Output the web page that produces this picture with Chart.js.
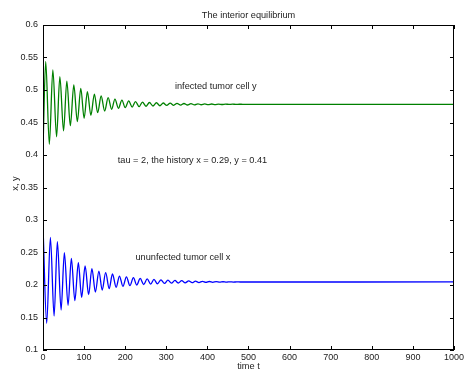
<!DOCTYPE html>
<html>
<head>
<meta charset="utf-8">
<script src="https://cdn.jsdelivr.net/npm/chart.js@4/dist/chart.umd.min.js"></script>
<style>
html,body{margin:0;padding:0;background:#fff;}
canvas{display:block;}
</style>
</head>
<body>
<canvas id="c" width="466" height="376"></canvas>
<script>
// infected tumor cell y : successive extrema (time, value)
const yTimes = [0, 6.6, 15.4, 24, 33, 41, 50, 58, 66.5, 75, 83.5, 92, 100, 108, 116.5, 125, 133, 141.5, 150, 158.5,
  167, 175, 183.5, 192, 200, 208.5, 217, 225, 234, 242, 250.5, 259, 267.5, 276, 284.5, 292.5, 301, 309.5, 318, 326,
  335, 343, 351.5, 360, 368.5, 377, 385, 393.5, 402, 410.5, 419, 427, 436, 444, 452.5, 461, 469, 478, 486, 1000];
const yValues = [0.41, 0.544, 0.4165, 0.531, 0.428, 0.5205, 0.437, 0.5138, 0.4451, 0.5077, 0.4513, 0.5026, 0.4564, 0.4974, 0.461, 0.4938, 0.4651, 0.4908, 0.4677, 0.4882,
  0.4703, 0.486, 0.4718, 0.4845, 0.4728, 0.4832, 0.4738, 0.4822, 0.4744, 0.4815, 0.475, 0.4808, 0.4754, 0.4804, 0.4758, 0.48, 0.4762, 0.4797, 0.4765, 0.4794,
  0.4767, 0.4792, 0.4769, 0.479, 0.4771, 0.4788, 0.4773, 0.4786, 0.4775, 0.4785, 0.4776, 0.4784, 0.4777, 0.4783, 0.4778, 0.4782, 0.4779, 0.4781, 0.478, 0.478];

// unfected tumor cell x : successive extrema (time, value)
const xTimes = [0, 9, 18, 27, 35, 44, 52, 61, 69, 77.5, 86, 94, 102.5, 111, 119, 127.5, 136, 144, 152.5, 161,
  169, 178, 186, 194.5, 203, 211.5, 220, 228, 236.5, 245, 253.5, 262, 270, 278.5, 287, 295.5, 304, 312.5, 321, 329,
  337.5, 346, 354.5, 363, 371, 379.5, 388, 396.5, 405, 413, 421.5, 430, 438, 446.5, 455, 463, 471.5, 480, 1000];
const xValues = [0.29, 0.141, 0.2734, 0.1523, 0.2667, 0.1615, 0.2497, 0.1688, 0.241, 0.1759, 0.2343, 0.1811, 0.2292, 0.1851, 0.2251, 0.1892, 0.2215, 0.1923, 0.2189, 0.1943,
  0.2169, 0.1964, 0.2138, 0.1978, 0.2125, 0.199, 0.2112, 0.2, 0.2101, 0.2008, 0.2093, 0.2014, 0.2086, 0.2019, 0.208, 0.2024, 0.2075, 0.2028, 0.207, 0.2031,
  0.2066, 0.2034, 0.2062, 0.2036, 0.2059, 0.2038, 0.2056, 0.204, 0.2054, 0.2041, 0.2052, 0.2043, 0.205, 0.2044, 0.2049, 0.2045, 0.2048, 0.2046, 0.2047];

const xTickValues = [0, 100, 200, 300, 400, 500, 600, 700, 800, 900, 1000];
const yTickValues = [0.1, 0.15, 0.2, 0.25, 0.3, 0.35, 0.4, 0.45, 0.5, 0.55, 0.6];

const titleText = 'The interior equilibrium';
const xAxisLabel = 'time t';
const yAxisLabel = 'x, y';
const notes = [
  {t: 321, v: 0.506, text: 'infected tumor cell y'},
  {t: 182, v: 0.392, text: 'tau = 2, the history x = 0.29, y = 0.41'},
  {t: 225, v: 0.242, text: 'ununfected tumor cell x'}
];

const FONT = '"Liberation Sans", Arial, Helvetica, sans-serif';
const toPts = (ts, vs) => ts.map((t, i) => ({x: t, y: vs[i]}));

const decor = {
  id: 'decor',
  afterDraw(chart) {
    const ctx = chart.ctx, a = chart.chartArea;
    const xs = chart.scales.x, ys = chart.scales.y;
    ctx.save();
    ctx.strokeStyle = '#000';
    ctx.lineWidth = 1;
    ctx.strokeRect(Math.round(a.left) + 0.5, Math.round(a.top) + 0.5,
      Math.round(a.right - a.left) - 1, Math.round(a.bottom - a.top) - 1);
    const L = 4;
    ctx.beginPath();
    xTickValues.forEach(v => {
      const px = Math.round(xs.getPixelForValue(v)) + 0.5;
      ctx.moveTo(px, a.bottom); ctx.lineTo(px, a.bottom - L);
      ctx.moveTo(px, a.top); ctx.lineTo(px, a.top + L);
    });
    yTickValues.forEach(v => {
      const py = Math.round(ys.getPixelForValue(v)) + 0.5;
      ctx.moveTo(a.left, py); ctx.lineTo(a.left + L, py);
      ctx.moveTo(a.right, py); ctx.lineTo(a.right - L, py);
    });
    ctx.stroke();
    ctx.fillStyle = '#222';
    ctx.font = '9.2px ' + FONT;
    ctx.textAlign = 'center';
    ctx.textBaseline = 'middle';
    ctx.fillText(titleText, (a.left + a.right) / 2, 15);
    ctx.fillText(xAxisLabel, (a.left + a.right) / 2, 366);
    ctx.save();
    ctx.translate(15, (a.top + a.bottom) / 2 - 4);
    ctx.rotate(-Math.PI / 2);
    ctx.fillText(yAxisLabel, 0, 0);
    ctx.restore();
    ctx.textAlign = 'left';
    notes.forEach(n => {
      ctx.fillText(n.text, xs.getPixelForValue(n.t), ys.getPixelForValue(n.v));
    });
    ctx.restore();
  }
};

new Chart(document.getElementById('c'), {
  type: 'scatter',
  data: {
    datasets: [
      {data: toPts(yTimes, yValues), showLine: true, borderColor: '#008000', borderWidth: 1.3,
       pointRadius: 0, cubicInterpolationMode: 'monotone', fill: false},
      {data: toPts(xTimes, xValues), showLine: true, borderColor: '#0000ff', borderWidth: 1.3,
       pointRadius: 0, cubicInterpolationMode: 'monotone', fill: false}
    ]
  },
  options: {
    responsive: false,
    animation: false,
    devicePixelRatio: 1,
    layout: {padding: {left: 0, right: 12, top: 25, bottom: 0}},
    plugins: {legend: {display: false}, tooltip: {enabled: false}, title: {display: false}},
    scales: {
      x: {
        type: 'linear', min: 0, max: 1000,
        afterBuildTicks: s => { s.ticks = xTickValues.map(v => ({value: v})); },
        afterFit: s => { s.height = 26; },
        grid: {drawOnChartArea: false, drawTicks: false},
        border: {display: false},
        ticks: {color: '#222', font: {family: FONT, size: 9}, padding: 2, maxRotation: 0,
                callback: v => String(v)}
      },
      y: {
        type: 'linear', min: 0.1, max: 0.6,
        afterBuildTicks: s => { s.ticks = yTickValues.map(v => ({value: v})); },
        afterFit: s => { s.width = 43; },
        grid: {drawOnChartArea: false, drawTicks: false},
        border: {display: false},
        ticks: {color: '#222', font: {family: FONT, size: 9}, padding: 5,
                callback: v => String(Math.round(v * 100) / 100)}
      }
    }
  },
  plugins: [decor]
});
</script>
</body>
</html>
